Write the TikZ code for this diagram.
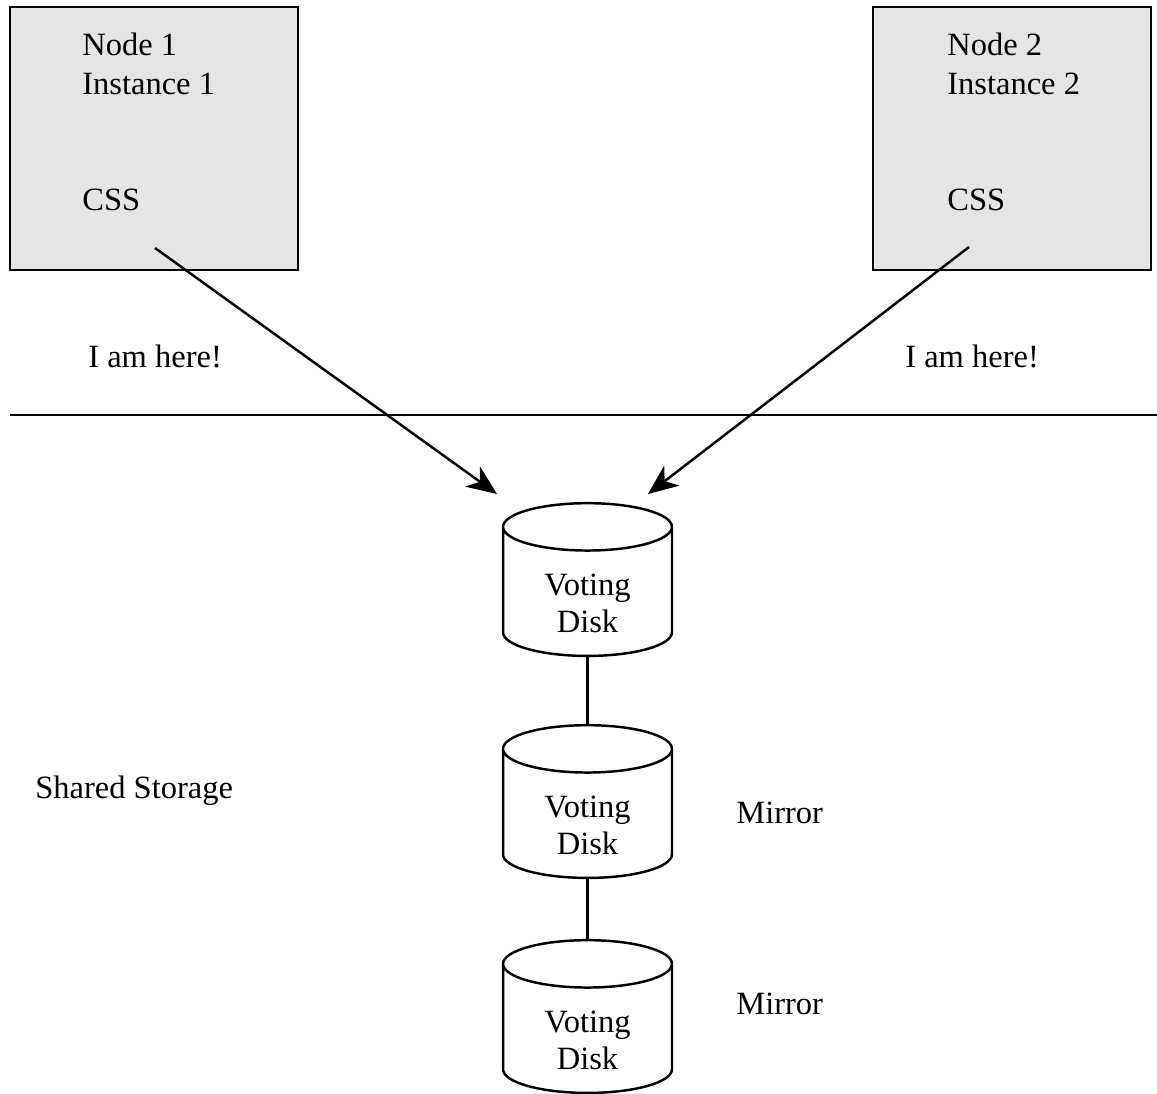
\documentclass[tikz,border=0pt]{standalone}
\usepackage{fontspec}
\setmainfont{Liberation Serif}
\usetikzlibrary{shapes.geometric,arrows.meta}

\begin{document}
\begin{tikzpicture}[x=0.02cm,y=-0.02cm,
        every node/.style={font=\fontsize{18.5}{22.1}\selectfont},
        hostbox/.style={rectangle,draw=black,fill=black!10,line width=1.1pt,minimum height=5.26cm},
        txt/.style={anchor=base west,inner sep=0pt,align=left},
        disk/.style={cylinder,draw=black,line width=1.4pt,shape border rotate=90,aspect=0.55,
            minimum width=3.38cm,minimum height=2.96cm,inner sep=0pt,align=center,
            text height=1.61cm,text depth=-0.09cm,font=\fontsize{18.5}{21}\selectfont},
        link/.style={draw=black,line width=1.4pt},
        heartbeat/.style={link,-{Stealth[length=0.6cm,width=0.5cm,inset=0.18cm]}}]
    \useasboundingbox (0,0) rectangle (1157,1093);
    % the two cluster nodes
    \node[hostbox,minimum width=5.76cm](host1) at (154,138.5) {};
    \node[hostbox,minimum width=5.56cm](host2) at (1012,138.5) {};
    \node[txt](name1) at (82,94) {Node 1\\Instance 1};
    \node[txt](css1) at (82,210) {CSS};
    \node[txt](name2) at (947,94) {Node 2\\Instance 2};
    \node[txt](css2) at (947,210) {CSS};
    \node[txt](here1) at (88,367) {I am here!};
    \node[txt](here2) at (905,367) {I am here!};
    % storage side
    \coordinate(lineL) at (10,415);
    \coordinate(lineR) at (1157,415);
    \draw[link](lineL)--(lineR);
    \node[disk](vd1) at (587.5,592) {Voting\\Disk};
    \node[disk](vd2) at (587.5,814) {Voting\\Disk};
    \node[disk](vd3) at (587.5,1029) {Voting\\Disk};
    \node[txt](shared) at (35,798) {Shared Storage};
    \node[txt](mirror1) at (736,823) {Mirror};
    \node[txt](mirror2) at (736,1014) {Mirror};
    \draw[link](vd1.bottom)--(vd2.top);
    \draw[link](vd2.bottom)--(vd3.top);
    % heartbeats
    \coordinate(tail1) at (155,248);
    \coordinate(tip1) at (497,494);
    \coordinate(tail2) at (969,247);
    \coordinate(tip2) at (648,494);
    \draw[heartbeat](tail1)--(tip1);
    \draw[heartbeat](tail2)--(tip2);
\end{tikzpicture}
\end{document}
